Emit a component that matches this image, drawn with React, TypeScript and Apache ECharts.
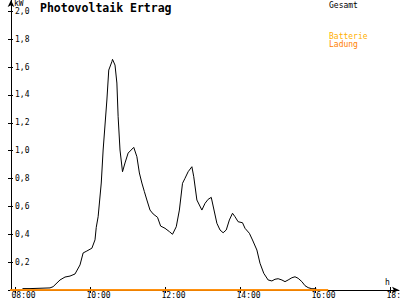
import { useEffect, useRef } from "react";
import * as echarts from "echarts";

// Gesamt (kW), [time, kW]
const gesamtSamples: [string, number][] = [
  ["08:12", 0.01], ["08:24", 0.01], ["08:56", 0.015], ["09:01", 0.024], ["09:12", 0.072],
  ["09:20", 0.093], ["09:28", 0.1], ["09:36", 0.115], ["09:44", 0.18], ["09:49", 0.266],
  ["09:55", 0.28], ["10:03", 0.3], ["10:08", 0.36], ["10:10", 0.45], ["10:13", 0.526],
  ["10:18", 0.768], ["10:21", 1.005], ["10:27", 1.364], ["10:30", 1.579], ["10:35", 1.639],
  ["10:36", 1.656], ["10:40", 1.615], ["10:43", 1.486], ["10:45", 1.244], ["10:48", 1.005],
  ["10:52", 0.849], ["10:56", 0.912], ["11:01", 0.983], ["11:10", 1.024], ["11:15", 0.957],
  ["11:19", 0.84], ["11:23", 0.768], ["11:27", 0.706], ["11:31", 0.646], ["11:36", 0.574],
  ["11:41", 0.546], ["11:48", 0.522], ["11:53", 0.459], ["12:00", 0.443], ["12:07", 0.419],
  ["12:12", 0.4], ["12:18", 0.454], ["12:23", 0.574], ["12:28", 0.766], ["12:32", 0.802],
  ["12:37", 0.849], ["12:43", 0.885], ["12:46", 0.813], ["12:51", 0.646], ["12:59", 0.574],
  ["13:04", 0.622], ["13:09", 0.651], ["13:14", 0.665], ["13:17", 0.603], ["13:23", 0.479],
  ["13:28", 0.431], ["13:33", 0.411], ["13:38", 0.431], ["13:43", 0.503], ["13:48", 0.551],
  ["13:52", 0.526], ["13:57", 0.49], ["14:04", 0.483], ["14:08", 0.443], ["14:15", 0.407],
  ["14:20", 0.359], ["14:27", 0.287], ["14:32", 0.192], ["14:38", 0.12], ["14:45", 0.072],
  ["14:51", 0.065], ["14:56", 0.077], ["15:01", 0.081], ["15:07", 0.072], ["15:12", 0.06],
  ["15:17", 0.072], ["15:23", 0.088], ["15:28", 0.095], ["15:33", 0.084], ["15:39", 0.06],
  ["15:44", 0.031], ["15:49", 0.017], ["15:55", 0.009], ["16:02", 0.009],
];

const batterieSamples: [string, number][] = [["07:36", 0], ["16:21", 0]];
const ladungSamples: [string, number][] = [["07:36", 0], ["16:21", 0]];

const hourTicks = [8, 10, 12, 14, 16, 18];
const kwTicks = [0, 0.2, 0.4, 0.6, 0.8, 1.0, 1.2, 1.4, 1.6, 1.8, 2.0];
const kwLabels = [0.2, 0.4, 0.6, 0.8, 1.0, 1.2, 1.4, 1.6, 1.8, 2.0];

const X_MIN = 7.893;
const X_MAX = 18.24;
const Y_MAX = 2.082;
const FONT = "DejaVu Sans Mono";

const toHours = (t: string) => {
  const [h, m] = t.split(":").map(Number);
  return h + m / 60;
};
const toPoints = (s: [string, number][]) => s.map(([t, v]) => [toHours(t), v]);

export default function App() {
  const ref = useRef<HTMLDivElement>(null);

  useEffect(() => {
    if (!ref.current) return;
    const chart = echarts.init(ref.current, undefined, { renderer: "svg" });
    const labelShift = 0.093;
    chart.setOption({
      animation: false,
      backgroundColor: "#fff",
      title: {
        text: "Photovoltaik Ertrag",
        left: 40,
        top: 2,
        padding: 0,
        textStyle: { fontSize: 11.5, fontWeight: "bold", fontFamily: FONT, color: "#000" },
      },
      legend: [
        {
          data: [{ name: "Gesamt", textStyle: { color: "#000" } }],
          left: 324,
          top: 1,
          padding: 0,
          icon: "rect",
          itemWidth: 0,
          itemHeight: 0,
          selectedMode: false,
          textStyle: { fontSize: 8, fontFamily: FONT, lineHeight: 8 },
        },
        {
          data: [
            { name: "Batterie", textStyle: { color: "#FFB000" } },
            { name: "Ladung", textStyle: { color: "#FF8000" } },
          ],
          orient: "vertical",
          left: 324,
          top: 32,
          padding: 0,
          itemGap: 0,
          icon: "rect",
          itemWidth: 0,
          itemHeight: 0,
          selectedMode: false,
          textStyle: { fontSize: 8, fontFamily: FONT, lineHeight: 8 },
        },
      ],
      grid: { left: 11, right: 1, top: 0, bottom: 10, containLabel: false, outerBoundsMode: "none" },
      xAxis: [
        {
          type: "value",
          min: X_MIN,
          max: X_MAX,
          position: "bottom",
          name: "h",
          nameLocation: "end",
          nameGap: -11.5,
          nameTextStyle: {
            fontSize: 8,
            fontFamily: FONT,
            color: "#000",
            align: "center",
            verticalAlign: "bottom",
            padding: [0, 0, 4, 0],
          },
          axisLine: {
            lineStyle: { color: "#000", width: 1 },
            symbol: ["none", "arrow"],
            symbolSize: [5, 7],
          },
          axisTick: { customValues: hourTicks, inside: true, length: 3, lineStyle: { color: "#000" } },
          axisLabel: {
            customValues: hourTicks.map((h) => h - labelShift),
            formatter: (v: number) => String(Math.round(v)).padStart(2, "0") + ":00",
            align: "left",
            margin: 1,
            fontSize: 8,
            fontFamily: FONT,
            color: "#000",
            hideOverlap: false,
          },
          splitLine: { show: false },
        },
        {
          type: "value",
          min: X_MIN,
          max: X_MAX,
          position: "bottom",
          axisLine: { show: false },
          axisTick: { customValues: hourTicks, inside: false, length: 3, lineStyle: { color: "#000" } },
          axisLabel: { show: false },
          splitLine: { show: false },
        },
      ],
      yAxis: [
        {
          type: "value",
          min: 0,
          max: Y_MAX,
          position: "left",
          name: "kW",
          nameLocation: "end",
          nameGap: -1,
          nameTextStyle: {
            fontSize: 8,
            fontFamily: FONT,
            color: "#000",
            align: "left",
            verticalAlign: "top",
            padding: [0, 0, 0, 3],
          },
          axisLine: {
            lineStyle: { color: "#000", width: 1 },
            symbol: ["none", "arrow"],
            symbolSize: [5, 7],
          },
          axisTick: { customValues: kwTicks, inside: true, length: 2, lineStyle: { color: "#000" } },
          axisLabel: {
            customValues: kwLabels,
            inside: true,
            margin: 4,
            formatter: (v: number) => v.toFixed(1).replace(".", ","),
            fontSize: 8,
            fontFamily: FONT,
            color: "#000",
          },
          splitLine: { show: false },
        },
        {
          type: "value",
          min: 0,
          max: Y_MAX,
          position: "left",
          axisLine: { show: false },
          axisTick: { customValues: kwTicks, inside: false, length: 3, lineStyle: { color: "#000" } },
          axisLabel: { show: false },
          splitLine: { show: false },
        },
      ],
      series: [
        {
          name: "Gesamt",
          type: "line",
          data: toPoints(gesamtSamples),
          symbol: "none",
          color: "#000",
          lineStyle: { color: "#000", width: 1 },
        },
        {
          name: "Batterie",
          type: "line",
          data: toPoints(batterieSamples),
          symbol: "none",
          clip: false,
          color: "#FFB000",
          lineStyle: { color: "#FFB000", width: 1.5 },
        },
        {
          name: "Ladung",
          type: "line",
          data: toPoints(ladungSamples),
          symbol: "none",
          clip: false,
          color: "#FF8000",
          lineStyle: { color: "#FF8000", width: 1.5 },
        },
      ],
    });
    return () => chart.dispose();
  }, []);

  return (
    <div
      ref={ref}
      style={{ position: "fixed", left: 0, top: 0, width: 400, height: 300, background: "#fff" }}
    />
  );
}
